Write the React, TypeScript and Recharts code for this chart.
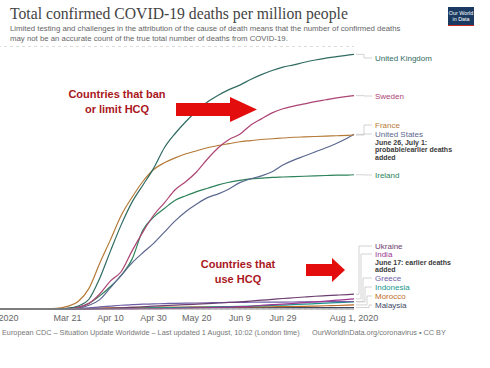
import { LineChart, Line, XAxis, YAxis, CartesianGrid } from "recharts";

// day of year 2020 (Jan 1 = 0)
const DAYS = [45, 60, 70, 75, 80, 85, 90, 95, 100, 105, 110, 115, 120, 125, 130, 135, 140, 145, 150, 155, 160, 165, 170, 175, 180, 185, 190, 195, 200, 205, 210, 213];
const TICK_DAYS = [45, 80, 100, 120, 140, 160, 180, 213];
const TICK_LABELS = ["Feb 15, 2020", "Mar 21", "Apr 10", "Apr 30", "May 20", "Jun 9", "Jun 29", "Aug 1, 2020"];
const Y_TICKS = [0, 100, 200, 300, 400, 500, 600];

// deaths per million
const UK = [0, 0, 0, 0.3, 2, 8, 26, 82, 155, 225, 285, 330, 375, 430, 468, 500, 528, 552, 570, 585, 597, 612, 625, 636, 645, 651, 658, 664, 669, 673, 677, 679];
const SWEDEN = [0, 0, 0, 0.5, 2, 5, 15, 40, 75, 100, 155, 205, 250, 283, 318, 340, 366, 400, 430, 452, 466, 490, 507, 523, 534, 541, 547, 553, 558, 563, 567, 569];
const FRANCE = [0, 0, 0.2, 1.5, 7, 20, 55, 122, 185, 250, 298, 340, 372, 390, 403, 414, 422, 430, 436, 441, 446, 449, 452, 454, 456, 458, 459, 460, 461, 462, 463, 464];
const US = [0, 0, 0, 0.2, 0.6, 2.5, 10, 25, 57, 90, 123, 150, 175, 205, 235, 260, 280, 297, 307, 320, 337, 347, 355, 366, 384, 397, 408, 419, 430, 442, 456, 466];
const IRELAND = [0, 0, 0, 0.2, 1, 4, 15, 35, 60, 90, 133, 210, 245, 268, 290, 302, 313, 322, 331, 338, 343, 347, 349, 351, 352, 353, 354, 355, 356, 357, 357, 358];
const UKRAINE = [0, 0, 0, 0, 0.1, 0.3, 0.5, 1.1, 1.9, 3, 4.5, 6, 7.5, 9, 10.5, 11.5, 13, 14.5, 16, 17.5, 19, 21, 23.5, 25.5, 28, 30, 32, 34, 35.5, 37, 38.5, 39.5];
const INDIA = [0, 0, 0, 0, 0, 0, 0.05, 0.1, 0.2, 0.3, 0.5, 0.7, 0.9, 1.3, 1.7, 2.2, 2.8, 3.5, 4.3, 5.2, 6.2, 7.2, 10, 11.5, 13, 15, 17, 19, 21, 23.5, 25.5, 27];
const GREECE = [0, 0, 0, 0.1, 0.6, 1.5, 3, 5.5, 7.8, 10, 11.5, 12.8, 13.5, 14.5, 15, 15.5, 16, 16.5, 17, 17.5, 17.6, 18, 18.2, 18.4, 18.5, 18.7, 19, 19.2, 19.4, 19.6, 19.8, 20];
const INDONESIA = [0, 0, 0, 0, 0.1, 0.2, 0.5, 0.8, 1.2, 1.7, 2.2, 2.6, 2.9, 3.4, 3.8, 4.2, 4.7, 5.4, 6, 6.4, 6.9, 7.6, 8.4, 9.3, 10.5, 11.7, 12.9, 14.2, 15.6, 17, 18.2, 18.8];
const MOROCCO = [0, 0, 0, 0, 0.1, 0.6, 1.2, 2.2, 3, 3.7, 4.1, 4.5, 4.7, 5.1, 5.3, 5.4, 5.5, 5.6, 5.6, 5.7, 5.7, 5.8, 5.9, 6, 6.2, 6.6, 7.2, 7.8, 8.6, 9.4, 10.3, 10.8];
const MALAYSIA = [0, 0, 0, 0, 0.2, 0.5, 1.2, 1.7, 2, 2.4, 2.7, 2.9, 3.1, 3.3, 3.4, 3.5, 3.55, 3.6, 3.6, 3.62, 3.64, 3.67, 3.7, 3.72, 3.74, 3.76, 3.8, 3.83, 3.86, 3.88, 3.9, 3.9];

const SERIES = [
  { key: "malaysia", name: "Malaysia", values: MALAYSIA },
  { key: "morocco", name: "Morocco", values: MOROCCO },
  { key: "indonesia", name: "Indonesia", values: INDONESIA },
  { key: "greece", name: "Greece", values: GREECE },
  { key: "india", name: "India", values: INDIA, notes: ["June 17: earlier deaths", "added"] },
  { key: "ukraine", name: "Ukraine", values: UKRAINE },
  { key: "ireland", name: "Ireland", values: IRELAND },
  { key: "us", name: "United States", values: US, notes: ["June 26, July 1:", "probable/earlier deaths", "added"] },
  { key: "france", name: "France", values: FRANCE },
  { key: "sweden", name: "Sweden", values: SWEDEN },
  { key: "uk", name: "United Kingdom", values: UK },
];

// styling: line colours, end-label positions (chart px) and leader knee offset
const STYLE: Record<string, { color: string; labelY: number; knee: number }> = {
  uk: { color: "#2f6b62", labelY: 58, knee: 10 },
  sweden: { color: "#ad4474", labelY: 96, knee: 10 },
  france: { color: "#b57a38", labelY: 125, knee: 10 },
  us: { color: "#5b6890", labelY: 134, knee: 10 },
  ireland: { color: "#2c8259", labelY: 175, knee: 10 },
  ukraine: { color: "#6c3d6e", labelY: 246, knee: 5 },
  india: { color: "#9e3690", labelY: 254, knee: 7 },
  greece: { color: "#6d5ea6", labelY: 278, knee: 9 },
  indonesia: { color: "#16968a", labelY: 287, knee: 11 },
  morocco: { color: "#bd6c28", labelY: 296, knee: 13 },
  malaysia: { color: "#3e4863", labelY: 305, knee: 15 },
};

const rows = DAYS.map((day, i) => {
  const r: Record<string, number> = { day };
  SERIES.forEach((s) => (r[s.key] = s.values[i]));
  return r;
});

const FONT = "'Liberation Sans', Arial, sans-serif";

function makeEndLabel(s: (typeof SERIES)[number]) {
  const st = STYLE[s.key];
  return (p: any) => {
    if (p.index !== DAYS.length - 1) return <g key={`d-${s.key}-${p.index}`} />;
    const x = p.cx;
    const y = p.cy;
    const lx = x + 21;
    const kx = x + st.knee;
    return (
      <g key={`d-${s.key}-${p.index}`}>
        <polyline
          points={`${x + 2},${y} ${kx},${y} ${kx},${st.labelY} ${lx - 3},${st.labelY}`}
          fill="none"
          stroke="#c8c8c8"
          strokeWidth={0.8}
        />
        <text x={lx} y={st.labelY} dominantBaseline="central" fontSize={8} fontFamily={FONT} fill={st.color}>
          {s.name}
        </text>
        {(s.notes || []).map((n, i) => (
          <text
            key={n}
            x={lx}
            y={st.labelY + 8 + i * 7.6}
            dominantBaseline="central"
            fontSize={7}
            fontWeight="bold"
            fontFamily={FONT}
            fill="#3a3a3a"
          >
            {n}
          </text>
        ))}
      </g>
    );
  };
}

export default function App() {
  return (
    <div style={{ position: "absolute", left: 0, top: 0, width: 490, height: 368, overflow: "hidden", background: "#fff", fontFamily: FONT }}>
      <div style={{ position: "absolute", left: 10, top: 5, fontFamily: "'Liberation Serif', 'DejaVu Serif', serif", fontSize: 15.7, color: "#444", whiteSpace: "nowrap", lineHeight: "18px" }}>
        Total confirmed COVID-19 deaths per million people
      </div>
      <div style={{ position: "absolute", left: 10, top: 24, fontSize: 7.8, color: "#666", lineHeight: "10px", whiteSpace: "nowrap" }}>
        Limited testing and challenges in the attribution of the cause of death means that the number of confirmed deaths
        <br />
        may not be an accurate count of the true total number of deaths from COVID-19.
      </div>
      <div style={{ position: "absolute", left: 448, top: 7, width: 26, height: 18.5, background: "#1b3a61", borderBottom: "1.5px solid #cf2a22", color: "#fff", fontSize: 5.4, lineHeight: "6.4px", textAlign: "center", paddingTop: 3, boxSizing: "border-box" }}>
        Our World
        <br />
        in Data
      </div>

      <div style={{ position: "absolute", left: -8, top: 0 }}>
        <LineChart width={498} height={368} data={rows} margin={{ top: 46.5, right: 136, bottom: 29, left: 0 }}>
          <CartesianGrid vertical={false} stroke="#dcdcdc" strokeDasharray="3 3" />
          <XAxis
            dataKey="day"
            type="number"
            domain={[45, 213]}
            ticks={TICK_DAYS}
            tickFormatter={(v: number) => TICK_LABELS[TICK_DAYS.indexOf(v)]}
            tickLine={false}
            tickMargin={0}
            axisLine={{ stroke: "#999" }}
            tick={{ fontSize: 9, fill: "#666", fontFamily: FONT }}
            height={30}
            interval={0}
          />
          <YAxis type="number" domain={[0, 700]} ticks={Y_TICKS} width={0} tick={false} axisLine={false} tickLine={false} />
          {SERIES.map((s) => (
            <Line
              key={s.key}
              dataKey={s.key}
              type="monotone"
              stroke={STYLE[s.key].color}
              strokeWidth={1.2}
              dot={makeEndLabel(s)}
              activeDot={false}
              isAnimationActive={false}
            />
          ))}
        </LineChart>
      </div>

      <svg width={490} height={368} style={{ position: "absolute", left: 0, top: 0, pointerEvents: "none" }}>
        <g fontFamily={FONT} fontSize={11} fontWeight="bold" fill="#a9171d" textAnchor="middle">
          <text x={117} y={98}>Countries that ban</text>
          <text x={117} y={113}>or limit HCQ</text>
          <text x={238} y={268}>Countries that</text>
          <text x={238} y={283}>use HCQ</text>
        </g>
        <polygon points="176,103 230,103 230,97 257,109.5 230,122 230,116 176,116" fill="#e30d0d" />
        <polygon points="306,264 332,264 332,258 345,270 332,282 332,276 306,276" fill="#e30d0d" />
      </svg>

      <div style={{ position: "absolute", left: 2, top: 328, fontSize: 7.3, color: "#777", whiteSpace: "nowrap" }}>
        European CDC – Situation Update Worldwide – Last updated 1 August, 10:02 (London time)
      </div>
      <div style={{ position: "absolute", left: 312, top: 328, fontSize: 7.3, color: "#777", whiteSpace: "nowrap" }}>
        OurWorldInData.org/coronavirus • CC BY
      </div>
    </div>
  );
}
